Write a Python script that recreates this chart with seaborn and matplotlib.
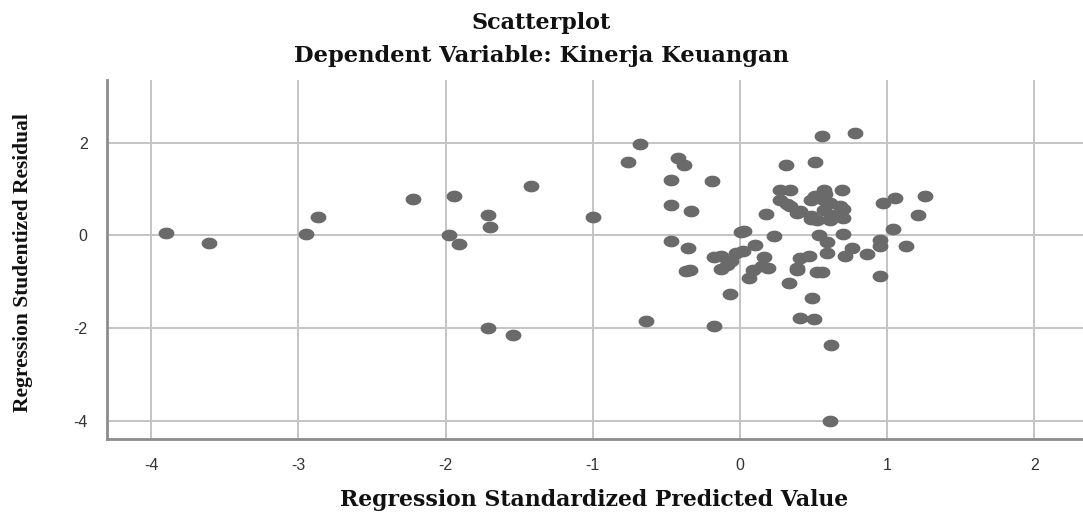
import numpy as np
import pandas as pd
import matplotlib
matplotlib.use("Agg")
import matplotlib.pyplot as plt
import seaborn as sns

# Значення
pred = [
    -3.90, -3.61, -2.95, -2.87, -2.22, -1.94, -1.98, -1.91, -1.71, -1.70,
    -1.42, -1.00, -1.71, -1.54,
    -0.76, -0.68, -0.64, -0.47, -0.42, -0.38, -0.47, -0.33, -0.19, -0.47,
    -0.35, -0.37, -0.34, -0.18, -0.13, -0.03, 0.02, -0.13, -0.09, -0.06,
    -0.07, -0.18, 0.01, 0.03, 0.10, 0.16, 0.15, 0.19, 0.09, 0.06,
    0.18, 0.23, 0.33, 0.41, 0.47, 0.39, 0.52, 0.49, 0.41, 0.50,
    0.62, 0.61, 0.31, 0.51, 0.56, 0.78,
    0.27, 0.34, 0.27, 0.34, 0.41, 0.48, 0.48, 0.57, 0.57, 0.57,
    0.52, 0.61, 0.69, 0.68, 0.70, 0.51, 0.61, 0.32, 0.39, 0.48,
    0.70, 0.58, 0.62, 0.54, 0.70, 0.59, 0.59, 0.71, 0.76, 0.86,
    0.95, 0.95, 0.95, 0.97, 1.05, 1.26, 1.21, 1.04, 1.13, 0.56, 0.39,
]
resid = [
    0.06, -0.17, 0.03, 0.40, 0.79, 0.84, 0.01, -0.18, 0.44, 0.19,
    1.07, 0.40, -1.99, -2.14,
    1.59, 1.96, -1.84, 1.20, 1.67, 1.51, 0.65, 0.52, 1.18, -0.13,
    -0.28, -0.76, -0.74, -0.46, -0.45, -0.38, -0.34, -0.72, -0.63, -0.56,
    -1.26, -1.96, 0.08, 0.10, -0.20, -0.46, -0.67, -0.70, -0.74, -0.92,
    0.47, -0.02, -1.02, -0.49, -0.45, -0.74, -0.78, -1.36, -1.79, -1.81,
    -2.37, -4.00, 1.52, 1.59, 2.14, 2.20,
    0.98, 0.98, 0.77, 0.63, 0.52, 0.41, 0.77, 0.98, 0.77, 0.55,
    0.33, 0.33, 0.98, 0.63, 0.37, 0.85, 0.69, 0.67, 0.49, 0.35,
    0.57, 0.90, 0.45, 0.01, 0.02, -0.14, -0.38, -0.45, -0.27, -0.41,
    -0.10, -0.23, -0.87, 0.69, 0.81, 0.85, 0.44, 0.13, -0.23, -0.78, -0.70,
]
x_ticks = [-4, -3, -2, -1, 0, 1, 2]
y_ticks = [-4, -2, 0, 2]

df = pd.DataFrame({"pred": pred, "resid": resid})

sns.set_style("white")
plt.rcParams["axes.unicode_minus"] = False

fig = plt.figure(figsize=(10.83, 5.15), dpi=100)
ax = fig.add_axes([107 / 1083, 1 - 439 / 515, 1 - 107 / 1083, (439 - 80) / 515])

# еліптичний маркер (оригінал трохи розтягнутий по горизонталі)
t = np.linspace(0, 2 * np.pi, 40)
ell = np.column_stack([1.35 * np.cos(t), np.sin(t)])

sns.scatterplot(data=df, x="pred", y="resid", ax=ax, marker=ell, s=130,
                color="#6a6a6a", linewidth=0, zorder=3)

ax.set_xlim(-4.30, 2.33)
ax.set_ylim(-4.39, 3.35)
ax.set_xticks(x_ticks)
ax.set_yticks(y_ticks)
ax.grid(True, color="#c4c4c4", linewidth=1.4)
ax.set_axisbelow(True)

for side in ["top", "right"]:
    ax.spines[side].set_visible(False)
for side in ["left", "bottom"]:
    ax.spines[side].set_color("#8c8c8c")
    ax.spines[side].set_linewidth(2)

ax.tick_params(axis="both", length=0, labelsize=11.5, labelcolor="#333333",
               pad=14)
for lab in ax.get_xticklabels() + ax.get_yticklabels():
    lab.set_family("Liberation Sans")

ax.set_xlabel("")
ax.set_ylabel("")
fig.text(594 / 1083, 1 - 500 / 515, "Regression Standardized Predicted Value",
         ha="center", va="center", fontsize=15.8, fontweight="bold",
         family="DejaVu Serif", color="#111111")
fig.text(23 / 1083, 1 - 263 / 515, "Regression Studentized Residual",
         ha="center", va="center", rotation=90, fontsize=15.5,
         fontweight="bold", family="Liberation Serif", color="#111111")

fig.text(541 / 1083, 1 - 23 / 515, "Scatterplot", ha="center", va="center",
         fontsize=16, fontweight="bold", family="DejaVu Serif",
         color="#111111")
fig.text(541 / 1083, 1 - 56 / 515, "Dependent Variable: Kinerja Keuangan",
         ha="center", va="center", fontsize=16.3, fontweight="bold",
         family="DejaVu Serif", color="#111111")

fig.savefig("out.png", dpi=100)
